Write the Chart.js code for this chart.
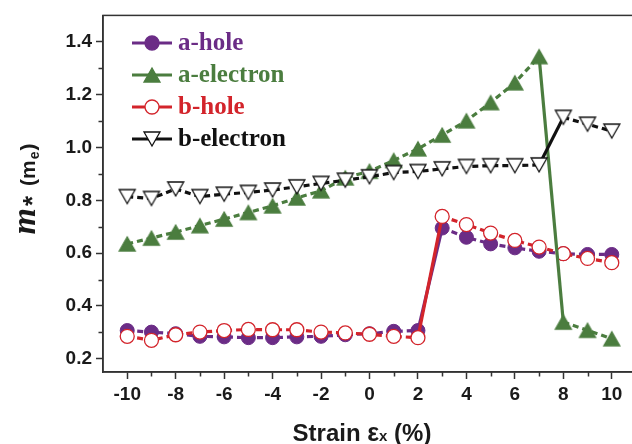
<!DOCTYPE html>
<html>
<head>
<meta charset="utf-8">
<script src="https://cdn.jsdelivr.net/npm/chart.js@4.4.1/dist/chart.umd.min.js"></script>
<style>
  html, body { margin: 0; padding: 0; background: #fff; overflow: hidden; }
  #wrap { width: 632px; height: 444px; overflow: hidden; }
</style>
</head>
<body>
<div id="wrap"><canvas id="massChart" width="636" height="444"></canvas></div>
<script>
// strain values (%) and effective masses (m_e)
const strain = [-10, -9, -8, -7, -6, -5, -4, -3, -2, -1, 0, 1, 2, 3, 4, 5, 6, 7, 8, 9, 10];
const aHole = [0.307, 0.301, 0.295, 0.285, 0.283, 0.280, 0.280, 0.283, 0.285, 0.291, 0.295,
               0.304, 0.307, 0.695, 0.660, 0.635, 0.620, 0.607, 0.598, 0.595, 0.595];
const aElectron = [0.635, 0.657, 0.680, 0.704, 0.729, 0.754, 0.779, 0.809, 0.836, 0.885, 0.910,
                   0.951, 0.995, 1.047, 1.101, 1.170, 1.245, 1.344, 0.339, 0.308, 0.276];
const bHole = [0.285, 0.270, 0.291, 0.301, 0.307, 0.311, 0.310, 0.310, 0.301, 0.298, 0.293,
               0.285, 0.280, 0.739, 0.708, 0.676, 0.648, 0.623, 0.598, 0.580, 0.564];
const bElectron = [0.814, 0.807, 0.843, 0.814, 0.823, 0.830, 0.839, 0.851, 0.864, 0.876, 0.889,
                   0.905, 0.909, 0.919, 0.928, 0.931, 0.931, 0.934, 1.114, 1.088, 1.062];
const seriesNames = ['a-hole', 'a-electron', 'b-hole', 'b-electron'];
const xTicks = [-10, -8, -6, -4, -2, 0, 2, 4, 6, 8, 10];
const yTicks = [0.2, 0.4, 0.6, 0.8, 1.0, 1.2, 1.4];
const xTicksMinor = [-9, -7, -5, -3, -1, 1, 3, 5, 7, 9];
const yTicksMinor = [0.3, 0.5, 0.7, 0.9, 1.1, 1.3];

const PURPLE = '#6b2c86';
const GREEN = '#4b7d3f';
const RED = '#d3242b';
const BLACK = '#111111';

function triangle(fill, stroke, down) {
    const c = document.createElement('canvas');
    c.width = 20; c.height = 18;
    const g = c.getContext('2d');
    const w = 16, h = 14, cx = 10, cy = 9;
    g.beginPath();
    if (down) {
        g.moveTo(cx - w / 2, cy - h / 2); g.lineTo(cx + w / 2, cy - h / 2); g.lineTo(cx, cy + h / 2);
    } else {
        g.moveTo(cx - w / 2, cy + h / 2); g.lineTo(cx + w / 2, cy + h / 2); g.lineTo(cx, cy - h / 2);
    }
    g.closePath();
    g.fillStyle = fill; g.fill();
    g.lineWidth = 1.3; g.strokeStyle = stroke; g.stroke();
    return c;
}
const upTri = triangle(GREEN, GREEN, false);
const downTri = triangle('#ffffff', BLACK, true);

function pts(vals) {
    return strain.map((s, i) => ({ x: s, y: vals[i] }));
}
// the jump between phases is drawn as a solid line, the rest dashed
function dashed(jumpIndex) {
    return { borderDash: ctx => ctx.p0DataIndex === jumpIndex ? [] : [6, 4] };
}

const datasets = [
    { label: seriesNames[0], data: pts(aHole), borderColor: PURPLE, backgroundColor: PURPLE,
      pointStyle: 'circle', pointRadius: 7, pointBorderWidth: 1, segment: dashed(12), order: 4 },
    { label: seriesNames[1], data: pts(aElectron), borderColor: GREEN, backgroundColor: GREEN,
      pointStyle: upTri, pointRadius: 8, segment: dashed(17), order: 2 },
    { label: seriesNames[2], data: pts(bHole), borderColor: RED, backgroundColor: '#ffffff',
      pointStyle: 'circle', pointRadius: 7, pointBorderWidth: 1.3, segment: dashed(12), order: 3 },
    { label: seriesNames[3], data: pts(bElectron), borderColor: BLACK, backgroundColor: '#ffffff',
      pointStyle: downTri, pointRadius: 8, segment: dashed(17), order: 1 }
];
datasets.forEach(d => { d.borderWidth = 3.2; d.fill = false; d.tension = 0; d.pointHoverRadius = d.pointRadius; });

const extras = {
    id: 'extras',
    afterDraw(chart) {
        const ctx = chart.ctx;
        const a = chart.chartArea;
        const xs = chart.scales.x, ys = chart.scales.y;
        ctx.save();
        // frame (top and left; right edge falls outside the picture)
        ctx.strokeStyle = '#333';
        ctx.lineWidth = 1.5;
        ctx.strokeRect(a.left, a.top, a.right - a.left, a.bottom - a.top);
        // minor ticks
        ctx.beginPath();
        xTicksMinor.forEach(v => {
            const px = Math.round(xs.getPixelForValue(v)) + 0.5;
            ctx.moveTo(px, a.bottom); ctx.lineTo(px, a.bottom + 4.5);
        });
        yTicksMinor.forEach(v => {
            const py = Math.round(ys.getPixelForValue(v)) + 0.5;
            ctx.moveTo(a.left, py); ctx.lineTo(a.left - 4.5, py);
        });
        ctx.stroke();

        // legend
        const rows = [43, 75, 107, 139];
        chart.data.datasets.forEach((d, i) => {
            const y = rows[i];
            ctx.strokeStyle = d.borderColor;
            ctx.lineWidth = 3;
            ctx.beginPath(); ctx.moveTo(132, y); ctx.lineTo(172, y); ctx.stroke();
            if (d.pointStyle === 'circle') {
                ctx.beginPath(); ctx.arc(152, y, 7, 0, Math.PI * 2);
                ctx.fillStyle = d.backgroundColor; ctx.fill();
                ctx.lineWidth = 1.3; ctx.strokeStyle = d.borderColor; ctx.stroke();
            } else {
                ctx.drawImage(d.pointStyle, 152 - d.pointStyle.width / 2, y - d.pointStyle.height / 2);
            }
            ctx.fillStyle = d.borderColor;
            ctx.font = 'bold 25px "Liberation Serif", "Times New Roman", serif';
            ctx.textBaseline = 'alphabetic';
            ctx.textAlign = 'left';
            ctx.fillText(d.label, 178, y + 7);
        });

        // y title: m* (m_e)
        ctx.fillStyle = '#1a1a1a';
        const parts = [
            { t: 'm', f: 'italic bold 34px "Liberation Serif", serif', dy: 0, gap: 2 },
            { t: '*', f: 'bold 26px "Liberation Sans", Arial, sans-serif', dy: 6, gap: 10 },
            { t: '(m', f: 'bold 21px "Liberation Sans", Arial, sans-serif', dy: 0, gap: 1 },
            { t: 'e', f: 'bold 14px "Liberation Sans", Arial, sans-serif', dy: 4, gap: 1 },
            { t: ')', f: 'bold 21px "Liberation Sans", Arial, sans-serif', dy: 0, gap: 0 }
        ];
        let total = 0;
        parts.forEach(p => { ctx.font = p.f; p.w = ctx.measureText(p.t).width; total += p.w + p.gap; });
        ctx.translate(35, 189 + total / 2);
        ctx.rotate(-Math.PI / 2);
        let cx = 0;
        parts.forEach(p => { ctx.font = p.f; ctx.fillText(p.t, cx, p.dy); cx += p.w + p.gap; });
        ctx.setTransform(1, 0, 0, 1, 0, 0);

        // x title: Strain εx (%)
        const xparts = [
            { t: 'Strain ', f: 'bold 24px "Liberation Sans", Arial, sans-serif' },
            { t: 'ε', f: 'bold 25px "Liberation Sans", Arial, sans-serif' },
            { t: 'x', f: 'bold 15px "Liberation Sans", Arial, sans-serif' },
            { t: ' (%)', f: 'bold 24px "Liberation Sans", Arial, sans-serif' }
        ];
        let xt = 0;
        xparts.forEach(p => { ctx.font = p.f; p.w = ctx.measureText(p.t).width; xt += p.w; });
        let xx = 362 - xt / 2;
        xparts.forEach(p => { ctx.font = p.f; ctx.fillText(p.t, xx, 441); xx += p.w; });
        ctx.restore();
    }
};

const tickFont = { family: '"Liberation Sans", Arial, sans-serif', size: 19, weight: 'bold' };

new Chart(document.getElementById('massChart').getContext('2d'), {
    type: 'line',
    data: { datasets: datasets },
    options: {
        responsive: false,
        animation: false,
        layout: { autoPadding: false, padding: { top: 12, left: 0, right: 0, bottom: 0 } },
        plugins: { legend: { display: false }, tooltip: { enabled: false } },
        scales: {
            x: {
                type: 'linear', min: -11, max: 11,
                afterBuildTicks: s => { s.ticks = xTicks.map(v => ({ value: v })); },
                afterFit: s => { s.height = 72; s.paddingRight = 0; s.paddingLeft = 0; },
                border: { color: '#333', width: 1.5 },
                grid: { drawOnChartArea: false, tickLength: 7, tickColor: '#333', tickWidth: 1.5 },
                ticks: { font: tickFont, color: '#1a1a1a', padding: 4, maxRotation: 0,
                         callback: v => String(v) }
            },
            y: {
                type: 'linear', min: 0.15, max: 1.5,
                afterBuildTicks: s => { s.ticks = yTicks.map(v => ({ value: v })); },
                afterFit: s => { s.width = 103; },
                border: { color: '#333', width: 1.5 },
                grid: { drawOnChartArea: false, tickLength: 7, tickColor: '#333', tickWidth: 1.5 },
                ticks: { font: tickFont, color: '#1a1a1a', padding: 4,
                         callback: v => v.toFixed(1) }
            }
        }
    },
    plugins: [extras]
});
</script>
</body>
</html>
